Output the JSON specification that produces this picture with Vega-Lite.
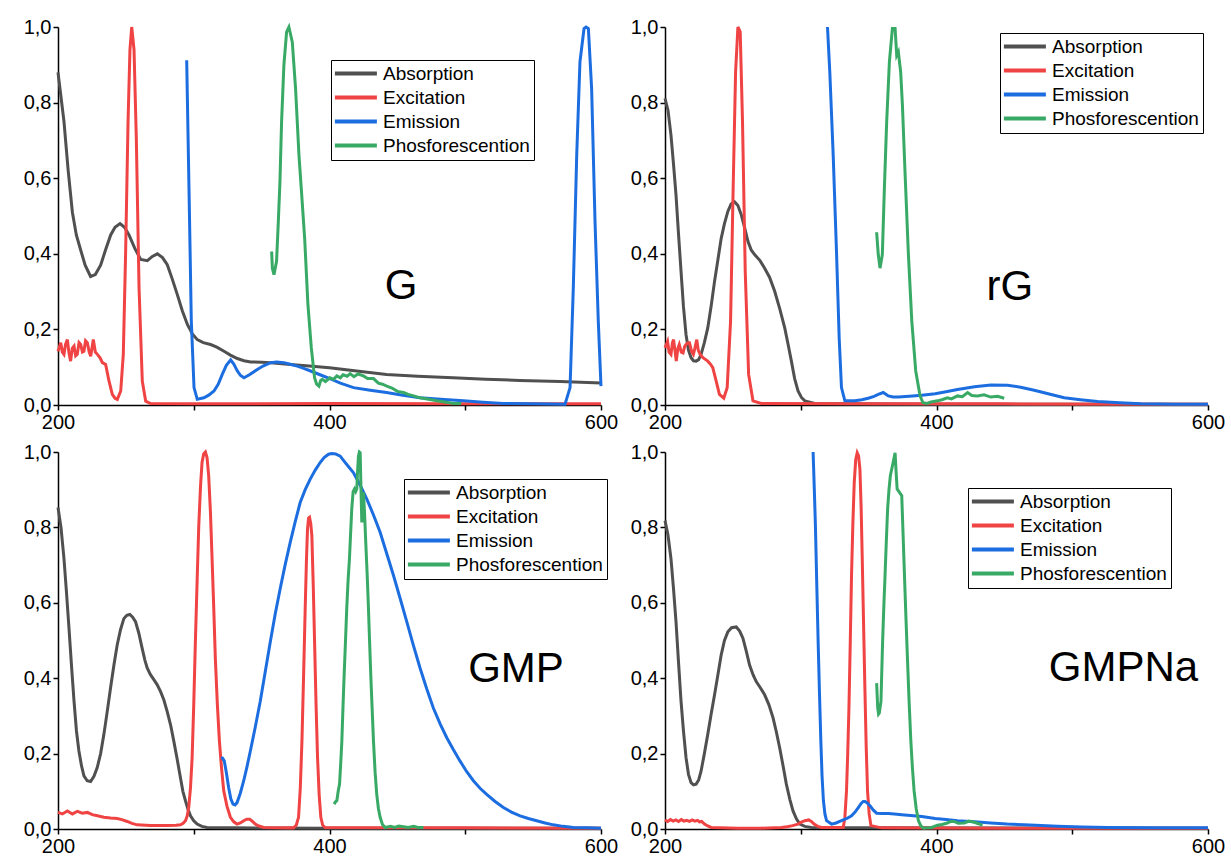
{
"$schema":"https://vega.github.io/schema/vega-lite/v6.json",
"background":"white",
"padding":{"left":23,"top":17,"right":5,"bottom":5},
"config":{
 "view":{"stroke":null},
 "font":"Liberation Sans",
 "axis":{"domainColor":"black","domainWidth":1.5,"tickColor":"black","tickWidth":1.5,"tickSize":5,"labelFontSize":20,"labelFont":"Liberation Sans","labelColor":"black","grid":false,"labelFlush":false,"labelOverlap":false,"labelBound":false,"title":null},
 "legend":{"strokeColor":"black","fillColor":"white","padding":4,"labelFontSize":19,"labelFont":"Liberation Sans","labelColor":"black","symbolType":"M-1.6,0H5.4","symbolStrokeWidth":4,"symbolSize":144,"labelOffset":29,"rowPadding":4,"title":null,"orient":"none"}
},
"datasets":{
"G":[
{"series":"Absorption","x":200,"y":0.88},{"series":"Absorption","x":204.4,"y":0.75},{"series":"Absorption","x":207.5,"y":0.62},{"series":"Absorption","x":210.6,"y":0.51},{"series":"Absorption","x":213.5,"y":0.45},{"series":"Absorption","x":216.7,"y":0.41},{"series":"Absorption","x":220,"y":0.37},{"series":"Absorption","x":224,"y":0.34},{"series":"Absorption","x":227.5,"y":0.345},{"series":"Absorption","x":231.4,"y":0.37},{"series":"Absorption","x":235,"y":0.41},{"series":"Absorption","x":238.8,"y":0.45},{"series":"Absorption","x":242,"y":0.47},{"series":"Absorption","x":245.7,"y":0.48},{"series":"Absorption","x":249,"y":0.47},{"series":"Absorption","x":252.3,"y":0.45},{"series":"Absorption","x":256.5,"y":0.415},{"series":"Absorption","x":260.9,"y":0.385},{"series":"Absorption","x":265.8,"y":0.382},{"series":"Absorption","x":269.5,"y":0.393},{"series":"Absorption","x":273.2,"y":0.4},{"series":"Absorption","x":277,"y":0.39},{"series":"Absorption","x":280.5,"y":0.371},{"series":"Absorption","x":284,"y":0.335},{"series":"Absorption","x":287.9,"y":0.292},{"series":"Absorption","x":291.5,"y":0.25},{"series":"Absorption","x":295.3,"y":0.213},{"series":"Absorption","x":299,"y":0.188},{"series":"Absorption","x":302.6,"y":0.173},{"series":"Absorption","x":307,"y":0.165},{"series":"Absorption","x":312.4,"y":0.16},{"series":"Absorption","x":317,"y":0.153},{"series":"Absorption","x":322.3,"y":0.142},{"series":"Absorption","x":327,"y":0.132},{"series":"Absorption","x":332.1,"y":0.123},{"series":"Absorption","x":337,"y":0.117},{"series":"Absorption","x":341.9,"y":0.114},{"series":"Absorption","x":350,"y":0.113},{"series":"Absorption","x":356.6,"y":0.112},{"series":"Absorption","x":371.4,"y":0.107},{"series":"Absorption","x":385,"y":0.103},{"series":"Absorption","x":400,"y":0.0985},{"series":"Absorption","x":420,"y":0.09},{"series":"Absorption","x":442,"y":0.081},{"series":"Absorption","x":465,"y":0.076},{"series":"Absorption","x":491,"y":0.072},{"series":"Absorption","x":515,"y":0.068},{"series":"Absorption","x":540,"y":0.065},{"series":"Absorption","x":570,"y":0.062},{"series":"Absorption","x":600,"y":0.058},
{"series":"Excitation","x":200,"y":0.142},{"series":"Excitation","x":202,"y":0.165},{"series":"Excitation","x":203.2,"y":0.14},{"series":"Excitation","x":204.4,"y":0.134},{"series":"Excitation","x":205.5,"y":0.16},{"series":"Excitation","x":206.9,"y":0.173},{"series":"Excitation","x":208,"y":0.14},{"series":"Excitation","x":209.3,"y":0.116},{"series":"Excitation","x":210.5,"y":0.15},{"series":"Excitation","x":211.8,"y":0.156},{"series":"Excitation","x":213,"y":0.13},{"series":"Excitation","x":214.2,"y":0.134},{"series":"Excitation","x":215.5,"y":0.165},{"series":"Excitation","x":216.7,"y":0.16},{"series":"Excitation","x":218,"y":0.14},{"series":"Excitation","x":219.1,"y":0.142},{"series":"Excitation","x":220.3,"y":0.17},{"series":"Excitation","x":221.6,"y":0.165},{"series":"Excitation","x":223,"y":0.14},{"series":"Excitation","x":224.1,"y":0.129},{"series":"Excitation","x":225,"y":0.15},{"series":"Excitation","x":226,"y":0.173},{"series":"Excitation","x":227.5,"y":0.14},{"series":"Excitation","x":229,"y":0.134},{"series":"Excitation","x":231,"y":0.125},{"series":"Excitation","x":232.7,"y":0.112},{"series":"Excitation","x":235.1,"y":0.107},{"series":"Excitation","x":237.6,"y":0.063},{"series":"Excitation","x":240,"y":0.028},{"series":"Excitation","x":242,"y":0.018},{"series":"Excitation","x":243.7,"y":0.015},{"series":"Excitation","x":246.2,"y":0.037},{"series":"Excitation","x":248.1,"y":0.134},{"series":"Excitation","x":249.8,"y":0.4},{"series":"Excitation","x":251.6,"y":0.75},{"series":"Excitation","x":253,"y":0.94},{"series":"Excitation","x":254.3,"y":1.0},{"series":"Excitation","x":256,"y":0.94},{"series":"Excitation","x":257.7,"y":0.705},{"series":"Excitation","x":259.7,"y":0.31},{"series":"Excitation","x":262.1,"y":0.063},{"series":"Excitation","x":264.6,"y":0.01},{"series":"Excitation","x":268.2,"y":0.004},{"series":"Excitation","x":300,"y":0.003},{"series":"Excitation","x":400,"y":0.004},{"series":"Excitation","x":500,"y":0.003},{"series":"Excitation","x":600,"y":0.003},
{"series":"Emission","x":294.8,"y":0.912},{"series":"Emission","x":296.5,"y":0.573},{"series":"Emission","x":298.2,"y":0.222},{"series":"Emission","x":300.2,"y":0.046},{"series":"Emission","x":302.6,"y":0.015},{"series":"Emission","x":307.5,"y":0.019},{"series":"Emission","x":311,"y":0.026},{"series":"Emission","x":314.9,"y":0.037},{"series":"Emission","x":318,"y":0.055},{"series":"Emission","x":321,"y":0.081},{"series":"Emission","x":324,"y":0.105},{"series":"Emission","x":327.2,"y":0.119},{"series":"Emission","x":329.5,"y":0.108},{"series":"Emission","x":332.1,"y":0.09},{"series":"Emission","x":334.5,"y":0.078},{"series":"Emission","x":337,"y":0.072},{"series":"Emission","x":341,"y":0.08},{"series":"Emission","x":346.8,"y":0.094},{"series":"Emission","x":351,"y":0.103},{"series":"Emission","x":356.6,"y":0.112},{"series":"Emission","x":361,"y":0.114},{"series":"Emission","x":366.4,"y":0.112},{"series":"Emission","x":371,"y":0.108},{"series":"Emission","x":376.3,"y":0.103},{"series":"Emission","x":381,"y":0.097},{"series":"Emission","x":386.1,"y":0.09},{"series":"Emission","x":393,"y":0.08},{"series":"Emission","x":400.3,"y":0.07},{"series":"Emission","x":408,"y":0.058},{"series":"Emission","x":417.7,"y":0.046},{"series":"Emission","x":430,"y":0.039},{"series":"Emission","x":442,"y":0.033},{"series":"Emission","x":454,"y":0.026},{"series":"Emission","x":466.7,"y":0.019},{"series":"Emission","x":482,"y":0.015},{"series":"Emission","x":498.7,"y":0.011},{"series":"Emission","x":513,"y":0.007},{"series":"Emission","x":528,"y":0.004},{"series":"Emission","x":550,"y":0.003},{"series":"Emission","x":573.5,"y":0.002},{"series":"Emission","x":577.2,"y":0.046},{"series":"Emission","x":579.6,"y":0.31},{"series":"Emission","x":582.1,"y":0.66},{"series":"Emission","x":584.5,"y":0.908},{"series":"Emission","x":587.5,"y":0.996},{"series":"Emission","x":589,"y":1.0},{"series":"Emission","x":590.7,"y":0.996},{"series":"Emission","x":593.1,"y":0.837},{"series":"Emission","x":595.6,"y":0.485},{"series":"Emission","x":598,"y":0.222},{"series":"Emission","x":600,"y":0.05},
{"series":"Phosforescention","x":357.4,"y":0.406},{"series":"Phosforescention","x":357.9,"y":0.362},{"series":"Phosforescention","x":359.1,"y":0.345},{"series":"Phosforescention","x":361,"y":0.38},{"series":"Phosforescention","x":362.3,"y":0.485},{"series":"Phosforescention","x":363.5,"y":0.591},{"series":"Phosforescention","x":364.7,"y":0.749},{"series":"Phosforescention","x":366.4,"y":0.899},{"series":"Phosforescention","x":368.4,"y":0.987},{"series":"Phosforescention","x":370.1,"y":1.0},{"series":"Phosforescention","x":372.6,"y":0.96},{"series":"Phosforescention","x":375,"y":0.837},{"series":"Phosforescention","x":377.5,"y":0.661},{"series":"Phosforescention","x":379.2,"y":0.573},{"series":"Phosforescention","x":381.7,"y":0.441},{"series":"Phosforescention","x":384.1,"y":0.266},{"series":"Phosforescention","x":386.6,"y":0.151},{"series":"Phosforescention","x":389,"y":0.072},{"series":"Phosforescention","x":390.5,"y":0.055},{"series":"Phosforescention","x":392.2,"y":0.05},{"series":"Phosforescention","x":393.5,"y":0.065},{"series":"Phosforescention","x":394.7,"y":0.068},{"series":"Phosforescention","x":397,"y":0.062},{"series":"Phosforescention","x":400.3,"y":0.072},{"series":"Phosforescention","x":403,"y":0.068},{"series":"Phosforescention","x":405.4,"y":0.077},{"series":"Phosforescention","x":408,"y":0.072},{"series":"Phosforescention","x":410,"y":0.08},{"series":"Phosforescention","x":413,"y":0.076},{"series":"Phosforescention","x":415.2,"y":0.083},{"series":"Phosforescention","x":418,"y":0.075},{"series":"Phosforescention","x":421,"y":0.082},{"series":"Phosforescention","x":425,"y":0.077},{"series":"Phosforescention","x":428,"y":0.07},{"series":"Phosforescention","x":432.4,"y":0.07},{"series":"Phosforescention","x":436,"y":0.058},{"series":"Phosforescention","x":439,"y":0.055},{"series":"Phosforescention","x":442.2,"y":0.05},{"series":"Phosforescention","x":446,"y":0.045},{"series":"Phosforescention","x":450,"y":0.036},{"series":"Phosforescention","x":454.5,"y":0.033},{"series":"Phosforescention","x":458,"y":0.028},{"series":"Phosforescention","x":462,"y":0.024},{"series":"Phosforescention","x":466.7,"y":0.019},{"series":"Phosforescention","x":472,"y":0.016},{"series":"Phosforescention","x":479,"y":0.011},{"series":"Phosforescention","x":485,"y":0.008},{"series":"Phosforescention","x":491.3,"y":0.004},{"series":"Phosforescention","x":497,"y":0.004}
],
"rG":[
{"series":"Absorption","x":200,"y":0.811},{"series":"Absorption","x":202.2,"y":0.78},{"series":"Absorption","x":204.4,"y":0.714},{"series":"Absorption","x":206.2,"y":0.64},{"series":"Absorption","x":208.1,"y":0.556},{"series":"Absorption","x":210,"y":0.45},{"series":"Absorption","x":211.8,"y":0.354},{"series":"Absorption","x":213.6,"y":0.26},{"series":"Absorption","x":215.5,"y":0.186},{"series":"Absorption","x":217.3,"y":0.145},{"series":"Absorption","x":219.2,"y":0.125},{"series":"Absorption","x":221,"y":0.117},{"series":"Absorption","x":222.9,"y":0.116},{"series":"Absorption","x":224.8,"y":0.12},{"series":"Absorption","x":226.6,"y":0.134},{"series":"Absorption","x":229,"y":0.165},{"series":"Absorption","x":231.5,"y":0.204},{"series":"Absorption","x":234,"y":0.262},{"series":"Absorption","x":236.5,"y":0.327},{"series":"Absorption","x":239,"y":0.385},{"series":"Absorption","x":241.4,"y":0.441},{"series":"Absorption","x":243.8,"y":0.48},{"series":"Absorption","x":246.3,"y":0.512},{"series":"Absorption","x":248.7,"y":0.532},{"series":"Absorption","x":251.2,"y":0.538},{"series":"Absorption","x":253.7,"y":0.528},{"series":"Absorption","x":256.2,"y":0.503},{"series":"Absorption","x":258.6,"y":0.47},{"series":"Absorption","x":261.1,"y":0.433},{"series":"Absorption","x":263.5,"y":0.41},{"series":"Absorption","x":266,"y":0.398},{"series":"Absorption","x":270,"y":0.382},{"series":"Absorption","x":273.4,"y":0.362},{"series":"Absorption","x":277,"y":0.338},{"series":"Absorption","x":280.8,"y":0.301},{"series":"Absorption","x":284.5,"y":0.255},{"series":"Absorption","x":288.2,"y":0.204},{"series":"Absorption","x":290.7,"y":0.16},{"series":"Absorption","x":293.1,"y":0.116},{"series":"Absorption","x":295.5,"y":0.07},{"series":"Absorption","x":298,"y":0.037},{"series":"Absorption","x":300.5,"y":0.02},{"series":"Absorption","x":303,"y":0.011},{"series":"Absorption","x":310.3,"y":0.004},{"series":"Absorption","x":330,"y":0.003},{"series":"Absorption","x":400,"y":0.002},{"series":"Absorption","x":500,"y":0.002},{"series":"Absorption","x":600,"y":0.002},
{"series":"Excitation","x":200,"y":0.151},{"series":"Excitation","x":201.9,"y":0.168},{"series":"Excitation","x":203,"y":0.14},{"series":"Excitation","x":204.4,"y":0.134},{"series":"Excitation","x":205.5,"y":0.165},{"series":"Excitation","x":206.3,"y":0.173},{"series":"Excitation","x":207.5,"y":0.14},{"series":"Excitation","x":208.3,"y":0.116},{"series":"Excitation","x":209.5,"y":0.15},{"series":"Excitation","x":210.5,"y":0.16},{"series":"Excitation","x":212,"y":0.14},{"series":"Excitation","x":213.3,"y":0.138},{"series":"Excitation","x":214.5,"y":0.155},{"series":"Excitation","x":215.5,"y":0.16},{"series":"Excitation","x":217,"y":0.165},{"series":"Excitation","x":218,"y":0.165},{"series":"Excitation","x":219.6,"y":0.142},{"series":"Excitation","x":220.9,"y":0.134},{"series":"Excitation","x":222,"y":0.15},{"series":"Excitation","x":223.4,"y":0.173},{"series":"Excitation","x":224.5,"y":0.145},{"series":"Excitation","x":225.9,"y":0.134},{"series":"Excitation","x":228,"y":0.125},{"series":"Excitation","x":231.5,"y":0.116},{"series":"Excitation","x":233.5,"y":0.108},{"series":"Excitation","x":235.2,"y":0.099},{"series":"Excitation","x":237.7,"y":0.063},{"series":"Excitation","x":240.1,"y":0.028},{"series":"Excitation","x":243.3,"y":0.018},{"series":"Excitation","x":245.8,"y":0.046},{"series":"Excitation","x":248.3,"y":0.222},{"series":"Excitation","x":250.2,"y":0.573},{"series":"Excitation","x":252,"y":0.881},{"series":"Excitation","x":253.7,"y":1.0},{"series":"Excitation","x":255.4,"y":0.987},{"series":"Excitation","x":257.1,"y":0.749},{"series":"Excitation","x":259.1,"y":0.354},{"series":"Excitation","x":261.6,"y":0.081},{"series":"Excitation","x":264.8,"y":0.011},{"series":"Excitation","x":270.9,"y":0.004},{"series":"Excitation","x":350,"y":0.003},{"series":"Excitation","x":450,"y":0.003},{"series":"Excitation","x":600,"y":0.002},
{"series":"Emission","x":319.7,"y":1.0},{"series":"Emission","x":321.4,"y":0.881},{"series":"Emission","x":323.9,"y":0.661},{"series":"Emission","x":326.4,"y":0.398},{"series":"Emission","x":328.3,"y":0.178},{"series":"Emission","x":330,"y":0.046},{"series":"Emission","x":332.5,"y":0.011},{"series":"Emission","x":339.9,"y":0.011},{"series":"Emission","x":345,"y":0.014},{"series":"Emission","x":349.7,"y":0.018},{"series":"Emission","x":354,"y":0.023},{"series":"Emission","x":357.1,"y":0.028},{"series":"Emission","x":360.8,"y":0.033},{"series":"Emission","x":364.5,"y":0.024},{"series":"Emission","x":368,"y":0.021},{"series":"Emission","x":371.9,"y":0.021},{"series":"Emission","x":380,"y":0.023},{"series":"Emission","x":389.2,"y":0.026},{"series":"Emission","x":399,"y":0.03},{"series":"Emission","x":407,"y":0.035},{"series":"Emission","x":415.5,"y":0.041},{"series":"Emission","x":428,"y":0.048},{"series":"Emission","x":440,"y":0.053},{"series":"Emission","x":452.3,"y":0.052},{"series":"Emission","x":462,"y":0.047},{"series":"Emission","x":472,"y":0.039},{"series":"Emission","x":483,"y":0.029},{"series":"Emission","x":494.1,"y":0.019},{"series":"Emission","x":506,"y":0.014},{"series":"Emission","x":518.7,"y":0.009},{"series":"Emission","x":535,"y":0.006},{"series":"Emission","x":550.6,"y":0.0035},{"series":"Emission","x":575,"y":0.002},{"series":"Emission","x":600,"y":0.002},
{"series":"Phosforescention","x":355.9,"y":0.457},{"series":"Phosforescention","x":357.1,"y":0.398},{"series":"Phosforescention","x":358.4,"y":0.362},{"series":"Phosforescention","x":360.1,"y":0.398},{"series":"Phosforescention","x":361.6,"y":0.573},{"series":"Phosforescention","x":363.3,"y":0.749},{"series":"Phosforescention","x":365.3,"y":0.908},{"series":"Phosforescention","x":367.5,"y":0.996},{"series":"Phosforescention","x":369.5,"y":0.996},{"series":"Phosforescention","x":370.7,"y":0.925},{"series":"Phosforescention","x":371.9,"y":0.934},{"series":"Phosforescention","x":373.6,"y":0.881},{"series":"Phosforescention","x":374.9,"y":0.793},{"series":"Phosforescention","x":376.8,"y":0.617},{"series":"Phosforescention","x":379.3,"y":0.398},{"series":"Phosforescention","x":381.8,"y":0.222},{"series":"Phosforescention","x":384.7,"y":0.09},{"series":"Phosforescention","x":387.9,"y":0.024},{"series":"Phosforescention","x":390,"y":0.006},{"series":"Phosforescention","x":392.9,"y":0.004},{"series":"Phosforescention","x":396,"y":0.008},{"series":"Phosforescention","x":400.7,"y":0.011},{"series":"Phosforescention","x":404,"y":0.014},{"series":"Phosforescention","x":408,"y":0.019},{"series":"Phosforescention","x":411,"y":0.016},{"series":"Phosforescention","x":415.5,"y":0.024},{"series":"Phosforescention","x":419,"y":0.022},{"series":"Phosforescention","x":422.9,"y":0.033},{"series":"Phosforescention","x":426,"y":0.025},{"series":"Phosforescention","x":430.2,"y":0.024},{"series":"Phosforescention","x":435,"y":0.027},{"series":"Phosforescention","x":440,"y":0.021},{"series":"Phosforescention","x":445,"y":0.023},{"series":"Phosforescention","x":449.9,"y":0.018}
],
"GMP":[
{"series":"Absorption","x":200,"y":0.853},{"series":"Absorption","x":202.2,"y":0.8},{"series":"Absorption","x":204.4,"y":0.717},{"series":"Absorption","x":206.2,"y":0.63},{"series":"Absorption","x":208.1,"y":0.532},{"series":"Absorption","x":210,"y":0.43},{"series":"Absorption","x":211.8,"y":0.339},{"series":"Absorption","x":213.6,"y":0.26},{"series":"Absorption","x":215.4,"y":0.207},{"series":"Absorption","x":217.3,"y":0.168},{"series":"Absorption","x":219.1,"y":0.141},{"series":"Absorption","x":221.5,"y":0.128},{"series":"Absorption","x":224,"y":0.126},{"series":"Absorption","x":226.5,"y":0.14},{"series":"Absorption","x":228.9,"y":0.163},{"series":"Absorption","x":231.4,"y":0.2},{"series":"Absorption","x":233.8,"y":0.251},{"series":"Absorption","x":236.2,"y":0.31},{"series":"Absorption","x":238.7,"y":0.374},{"series":"Absorption","x":241.2,"y":0.435},{"series":"Absorption","x":243.6,"y":0.488},{"series":"Absorption","x":246,"y":0.528},{"series":"Absorption","x":248.5,"y":0.558},{"series":"Absorption","x":250.7,"y":0.567},{"series":"Absorption","x":252.9,"y":0.569},{"series":"Absorption","x":255,"y":0.562},{"series":"Absorption","x":257.1,"y":0.55},{"series":"Absorption","x":259.5,"y":0.52},{"series":"Absorption","x":262,"y":0.479},{"series":"Absorption","x":264,"y":0.448},{"series":"Absorption","x":265.7,"y":0.427},{"series":"Absorption","x":268,"y":0.41},{"series":"Absorption","x":270.6,"y":0.396},{"series":"Absorption","x":273,"y":0.383},{"series":"Absorption","x":275.5,"y":0.365},{"series":"Absorption","x":278,"y":0.342},{"series":"Absorption","x":280.4,"y":0.312},{"series":"Absorption","x":283,"y":0.275},{"series":"Absorption","x":285.3,"y":0.233},{"series":"Absorption","x":287.8,"y":0.185},{"series":"Absorption","x":290.2,"y":0.136},{"series":"Absorption","x":292,"y":0.1},{"series":"Absorption","x":293.9,"y":0.075},{"series":"Absorption","x":295.8,"y":0.052},{"series":"Absorption","x":297.6,"y":0.035},{"series":"Absorption","x":300,"y":0.022},{"series":"Absorption","x":302.5,"y":0.013},{"series":"Absorption","x":306,"y":0.007},{"series":"Absorption","x":309.8,"y":0.004},{"series":"Absorption","x":329.4,"y":0.003},{"series":"Absorption","x":400,"y":0.002},{"series":"Absorption","x":600,"y":0.002},
{"series":"Excitation","x":200,"y":0.044},{"series":"Excitation","x":203.2,"y":0.04},{"series":"Excitation","x":206.9,"y":0.048},{"series":"Excitation","x":210.6,"y":0.04},{"series":"Excitation","x":214.3,"y":0.047},{"series":"Excitation","x":217.9,"y":0.042},{"series":"Excitation","x":221.6,"y":0.044},{"series":"Excitation","x":225.3,"y":0.038},{"series":"Excitation","x":229,"y":0.035},{"series":"Excitation","x":233.8,"y":0.031},{"series":"Excitation","x":238.7,"y":0.029},{"series":"Excitation","x":243.6,"y":0.028},{"series":"Excitation","x":247,"y":0.025},{"series":"Excitation","x":251,"y":0.02},{"series":"Excitation","x":254.5,"y":0.015},{"series":"Excitation","x":258.3,"y":0.011},{"series":"Excitation","x":268.1,"y":0.009},{"series":"Excitation","x":280.4,"y":0.009},{"series":"Excitation","x":287,"y":0.01},{"series":"Excitation","x":290.2,"y":0.011},{"series":"Excitation","x":292.2,"y":0.015},{"series":"Excitation","x":293.9,"y":0.022},{"series":"Excitation","x":295.2,"y":0.035},{"series":"Excitation","x":296.3,"y":0.057},{"series":"Excitation","x":297.6,"y":0.11},{"series":"Excitation","x":298.8,"y":0.189},{"series":"Excitation","x":300,"y":0.33},{"series":"Excitation","x":301.2,"y":0.497},{"series":"Excitation","x":302.5,"y":0.66},{"series":"Excitation","x":303.7,"y":0.805},{"series":"Excitation","x":305,"y":0.91},{"series":"Excitation","x":306.1,"y":0.972},{"series":"Excitation","x":307.3,"y":0.995},{"series":"Excitation","x":308.6,"y":1.0},{"series":"Excitation","x":309.8,"y":0.985},{"series":"Excitation","x":311,"y":0.937},{"series":"Excitation","x":312.3,"y":0.84},{"series":"Excitation","x":313.5,"y":0.717},{"series":"Excitation","x":314.7,"y":0.59},{"series":"Excitation","x":315.9,"y":0.453},{"series":"Excitation","x":317.4,"y":0.33},{"series":"Excitation","x":318.9,"y":0.233},{"series":"Excitation","x":320.5,"y":0.16},{"series":"Excitation","x":322.1,"y":0.101},{"series":"Excitation","x":324.5,"y":0.06},{"series":"Excitation","x":327,"y":0.031},{"series":"Excitation","x":329.5,"y":0.019},{"series":"Excitation","x":331.9,"y":0.013},{"series":"Excitation","x":334.3,"y":0.016},{"series":"Excitation","x":336.8,"y":0.022},{"series":"Excitation","x":339,"y":0.026},{"series":"Excitation","x":341.2,"y":0.026},{"series":"Excitation","x":343.3,"y":0.02},{"series":"Excitation","x":345.3,"y":0.013},{"series":"Excitation","x":348,"y":0.008},{"series":"Excitation","x":351.5,"y":0.004},{"series":"Excitation","x":373.5,"y":0.003},{"series":"Excitation","x":375.5,"y":0.01},{"series":"Excitation","x":377.2,"y":0.031},{"series":"Excitation","x":378.5,"y":0.11},{"series":"Excitation","x":379.7,"y":0.233},{"series":"Excitation","x":381,"y":0.42},{"series":"Excitation","x":382.1,"y":0.585},{"series":"Excitation","x":383,"y":0.71},{"series":"Excitation","x":383.8,"y":0.796},{"series":"Excitation","x":384.6,"y":0.825},{"series":"Excitation","x":385.3,"y":0.827},{"series":"Excitation","x":386.2,"y":0.81},{"series":"Excitation","x":387,"y":0.778},{"series":"Excitation","x":388,"y":0.65},{"series":"Excitation","x":389,"y":0.497},{"series":"Excitation","x":390.1,"y":0.33},{"series":"Excitation","x":391.2,"y":0.189},{"series":"Excitation","x":392.4,"y":0.09},{"series":"Excitation","x":393.6,"y":0.031},{"series":"Excitation","x":395,"y":0.01},{"series":"Excitation","x":396.8,"y":0.004},{"series":"Excitation","x":500,"y":0.003},{"series":"Excitation","x":600,"y":0.002},
{"series":"Emission","x":320.1,"y":0.189},{"series":"Emission","x":321.2,"y":0.188},{"series":"Emission","x":322.5,"y":0.18},{"series":"Emission","x":324,"y":0.15},{"series":"Emission","x":325.7,"y":0.11},{"series":"Emission","x":327.3,"y":0.08},{"series":"Emission","x":328.9,"y":0.066},{"series":"Emission","x":330.4,"y":0.064},{"series":"Emission","x":331.9,"y":0.07},{"series":"Emission","x":334.3,"y":0.095},{"series":"Emission","x":336.8,"y":0.128},{"series":"Emission","x":339.2,"y":0.165},{"series":"Emission","x":341.7,"y":0.207},{"series":"Emission","x":345.4,"y":0.272},{"series":"Emission","x":349,"y":0.339},{"series":"Emission","x":352.7,"y":0.418},{"series":"Emission","x":356.4,"y":0.497},{"series":"Emission","x":360,"y":0.57},{"series":"Emission","x":363.7,"y":0.638},{"series":"Emission","x":367.4,"y":0.702},{"series":"Emission","x":371.1,"y":0.761},{"series":"Emission","x":374.8,"y":0.816},{"series":"Emission","x":378.4,"y":0.866},{"series":"Emission","x":382.1,"y":0.9},{"series":"Emission","x":385.8,"y":0.928},{"series":"Emission","x":389.5,"y":0.952},{"series":"Emission","x":393.1,"y":0.972},{"series":"Emission","x":396,"y":0.985},{"series":"Emission","x":399.3,"y":0.994},{"series":"Emission","x":401.7,"y":0.996},{"series":"Emission","x":404.5,"y":0.995},{"series":"Emission","x":407.9,"y":0.989},{"series":"Emission","x":412,"y":0.97},{"series":"Emission","x":417.7,"y":0.945},{"series":"Emission","x":422.6,"y":0.912},{"series":"Emission","x":427.5,"y":0.875},{"series":"Emission","x":432.4,"y":0.833},{"series":"Emission","x":437.3,"y":0.787},{"series":"Emission","x":442.2,"y":0.73},{"series":"Emission","x":447.1,"y":0.673},{"series":"Emission","x":452,"y":0.612},{"series":"Emission","x":456.9,"y":0.55},{"series":"Emission","x":461.8,"y":0.487},{"series":"Emission","x":466.7,"y":0.427},{"series":"Emission","x":471.6,"y":0.372},{"series":"Emission","x":476.5,"y":0.321},{"series":"Emission","x":481.5,"y":0.279},{"series":"Emission","x":486.4,"y":0.242},{"series":"Emission","x":491.3,"y":0.21},{"series":"Emission","x":496.2,"y":0.18},{"series":"Emission","x":501.1,"y":0.152},{"series":"Emission","x":506,"y":0.128},{"series":"Emission","x":510.9,"y":0.108},{"series":"Emission","x":515.8,"y":0.092},{"series":"Emission","x":522,"y":0.073},{"series":"Emission","x":528.1,"y":0.057},{"series":"Emission","x":534,"y":0.045},{"series":"Emission","x":540.4,"y":0.035},{"series":"Emission","x":546.5,"y":0.028},{"series":"Emission","x":552.6,"y":0.022},{"series":"Emission","x":558.8,"y":0.016},{"series":"Emission","x":564.9,"y":0.011},{"series":"Emission","x":572,"y":0.007},{"series":"Emission","x":579.6,"y":0.004},{"series":"Emission","x":590,"y":0.003},{"series":"Emission","x":600,"y":0.002},
{"series":"Phosforescention","x":403.4,"y":0.066},{"series":"Phosforescention","x":404.4,"y":0.072},{"series":"Phosforescention","x":405.4,"y":0.075},{"series":"Phosforescention","x":406.4,"y":0.1},{"series":"Phosforescention","x":407.4,"y":0.119},{"series":"Phosforescention","x":408.2,"y":0.17},{"series":"Phosforescention","x":409.1,"y":0.233},{"series":"Phosforescention","x":410,"y":0.33},{"series":"Phosforescention","x":410.8,"y":0.409},{"series":"Phosforescention","x":411.8,"y":0.5},{"series":"Phosforescention","x":412.7,"y":0.585},{"series":"Phosforescention","x":413.7,"y":0.66},{"series":"Phosforescention","x":414.7,"y":0.717},{"series":"Phosforescention","x":415.5,"y":0.78},{"series":"Phosforescention","x":416.4,"y":0.849},{"series":"Phosforescention","x":417.4,"y":0.895},{"series":"Phosforescention","x":418.4,"y":0.902},{"series":"Phosforescention","x":419.3,"y":0.895},{"series":"Phosforescention","x":420.1,"y":0.902},{"series":"Phosforescention","x":420.7,"y":0.95},{"series":"Phosforescention","x":421.3,"y":0.989},{"series":"Phosforescention","x":422,"y":1.0},{"series":"Phosforescention","x":422.6,"y":0.998},{"series":"Phosforescention","x":423.2,"y":0.9},{"series":"Phosforescention","x":423.8,"y":0.813},{"series":"Phosforescention","x":424.4,"y":0.86},{"series":"Phosforescention","x":425,"y":0.893},{"series":"Phosforescention","x":425.8,"y":0.84},{"series":"Phosforescention","x":426.7,"y":0.761},{"series":"Phosforescention","x":427.7,"y":0.68},{"series":"Phosforescention","x":428.7,"y":0.585},{"series":"Phosforescention","x":429.5,"y":0.5},{"series":"Phosforescention","x":430.4,"y":0.409},{"series":"Phosforescention","x":431.4,"y":0.32},{"series":"Phosforescention","x":432.4,"y":0.233},{"series":"Phosforescention","x":433.6,"y":0.15},{"series":"Phosforescention","x":434.8,"y":0.092},{"series":"Phosforescention","x":436,"y":0.055},{"series":"Phosforescention","x":437.3,"y":0.031},{"series":"Phosforescention","x":439,"y":0.012},{"series":"Phosforescention","x":441,"y":0.004},{"series":"Phosforescention","x":445,"y":0.007},{"series":"Phosforescention","x":448,"y":0.004},{"series":"Phosforescention","x":451,"y":0.008},{"series":"Phosforescention","x":454.5,"y":0.006},{"series":"Phosforescention","x":458,"y":0.004},{"series":"Phosforescention","x":462,"y":0.007},{"series":"Phosforescention","x":465,"y":0.004},{"series":"Phosforescention","x":469.2,"y":0.004}
],
"GMPNa":[
{"series":"Absorption","x":200,"y":0.818},{"series":"Absorption","x":202.2,"y":0.78},{"series":"Absorption","x":204.4,"y":0.717},{"series":"Absorption","x":206.2,"y":0.64},{"series":"Absorption","x":208.1,"y":0.55},{"series":"Absorption","x":210,"y":0.44},{"series":"Absorption","x":211.8,"y":0.339},{"series":"Absorption","x":213.6,"y":0.26},{"series":"Absorption","x":215.5,"y":0.189},{"series":"Absorption","x":217.3,"y":0.145},{"series":"Absorption","x":219.2,"y":0.123},{"series":"Absorption","x":221,"y":0.117},{"series":"Absorption","x":222.9,"y":0.119},{"series":"Absorption","x":224.8,"y":0.13},{"series":"Absorption","x":226.6,"y":0.154},{"series":"Absorption","x":229,"y":0.2},{"series":"Absorption","x":231.5,"y":0.251},{"series":"Absorption","x":234,"y":0.305},{"series":"Absorption","x":236.5,"y":0.356},{"series":"Absorption","x":239,"y":0.41},{"series":"Absorption","x":241.4,"y":0.462},{"series":"Absorption","x":243.8,"y":0.5},{"series":"Absorption","x":246.3,"y":0.523},{"series":"Absorption","x":249,"y":0.534},{"series":"Absorption","x":252.5,"y":0.536},{"series":"Absorption","x":255,"y":0.525},{"series":"Absorption","x":257.4,"y":0.506},{"series":"Absorption","x":260,"y":0.47},{"series":"Absorption","x":262.3,"y":0.435},{"series":"Absorption","x":265,"y":0.408},{"series":"Absorption","x":267.2,"y":0.391},{"series":"Absorption","x":270,"y":0.376},{"series":"Absorption","x":273.4,"y":0.356},{"series":"Absorption","x":276.5,"y":0.33},{"series":"Absorption","x":279.6,"y":0.295},{"series":"Absorption","x":282,"y":0.258},{"series":"Absorption","x":284.5,"y":0.215},{"series":"Absorption","x":287,"y":0.167},{"series":"Absorption","x":289.4,"y":0.119},{"series":"Absorption","x":292,"y":0.078},{"series":"Absorption","x":294.3,"y":0.048},{"series":"Absorption","x":296.8,"y":0.027},{"series":"Absorption","x":299.3,"y":0.013},{"series":"Absorption","x":303,"y":0.007},{"series":"Absorption","x":307.9,"y":0.004},{"series":"Absorption","x":350,"y":0.003},{"series":"Absorption","x":600,"y":0.002},
{"series":"Excitation","x":200,"y":0.024},{"series":"Excitation","x":202,"y":0.02},{"series":"Excitation","x":204,"y":0.025},{"series":"Excitation","x":206,"y":0.021},{"series":"Excitation","x":208,"y":0.024},{"series":"Excitation","x":210,"y":0.02},{"series":"Excitation","x":212,"y":0.025},{"series":"Excitation","x":214,"y":0.021},{"series":"Excitation","x":216,"y":0.023},{"series":"Excitation","x":218,"y":0.02},{"series":"Excitation","x":220,"y":0.024},{"series":"Excitation","x":222,"y":0.021},{"series":"Excitation","x":224,"y":0.023},{"series":"Excitation","x":225.4,"y":0.019},{"series":"Excitation","x":227,"y":0.02},{"series":"Excitation","x":229.1,"y":0.013},{"series":"Excitation","x":231.5,"y":0.008},{"series":"Excitation","x":234,"y":0.004},{"series":"Excitation","x":253.7,"y":0.002},{"series":"Excitation","x":270,"y":0.002},{"series":"Excitation","x":285.7,"y":0.004},{"series":"Excitation","x":290,"y":0.006},{"series":"Excitation","x":294,"y":0.009},{"series":"Excitation","x":298,"y":0.013},{"series":"Excitation","x":300.5,"y":0.018},{"series":"Excitation","x":303,"y":0.022},{"series":"Excitation","x":305.9,"y":0.024},{"series":"Excitation","x":307.8,"y":0.02},{"series":"Excitation","x":309.8,"y":0.013},{"series":"Excitation","x":312.5,"y":0.007},{"series":"Excitation","x":315.3,"y":0.004},{"series":"Excitation","x":331.3,"y":0.004},{"series":"Excitation","x":332.5,"y":0.03},{"series":"Excitation","x":333.7,"y":0.101},{"series":"Excitation","x":334.6,"y":0.2},{"series":"Excitation","x":335.5,"y":0.321},{"series":"Excitation","x":336.5,"y":0.5},{"series":"Excitation","x":337.4,"y":0.673},{"series":"Excitation","x":338.4,"y":0.81},{"series":"Excitation","x":339.4,"y":0.919},{"series":"Excitation","x":340.5,"y":0.98},{"series":"Excitation","x":341.6,"y":0.998},{"series":"Excitation","x":342.6,"y":0.99},{"series":"Excitation","x":343.6,"y":0.954},{"series":"Excitation","x":344.5,"y":0.85},{"series":"Excitation","x":345.3,"y":0.717},{"series":"Excitation","x":346.3,"y":0.54},{"series":"Excitation","x":347.3,"y":0.365},{"series":"Excitation","x":348.2,"y":0.22},{"series":"Excitation","x":349.2,"y":0.101},{"series":"Excitation","x":350.4,"y":0.04},{"series":"Excitation","x":351.7,"y":0.009},{"series":"Excitation","x":359.6,"y":0.003},{"series":"Excitation","x":450,"y":0.002},{"series":"Excitation","x":600,"y":0.002},
{"series":"Emission","x":309.1,"y":1.0},{"series":"Emission","x":310,"y":0.9},{"series":"Emission","x":310.8,"y":0.805},{"series":"Emission","x":311.8,"y":0.65},{"series":"Emission","x":312.8,"y":0.497},{"series":"Emission","x":313.8,"y":0.36},{"series":"Emission","x":314.8,"y":0.233},{"series":"Emission","x":315.7,"y":0.14},{"series":"Emission","x":316.7,"y":0.075},{"series":"Emission","x":317.8,"y":0.04},{"series":"Emission","x":319,"y":0.022},{"series":"Emission","x":322.7,"y":0.013},{"series":"Emission","x":326,"y":0.016},{"series":"Emission","x":330,"y":0.022},{"series":"Emission","x":334,"y":0.028},{"series":"Emission","x":337.4,"y":0.035},{"series":"Emission","x":340,"y":0.045},{"series":"Emission","x":342.4,"y":0.057},{"series":"Emission","x":344.5,"y":0.068},{"series":"Emission","x":346,"y":0.073},{"series":"Emission","x":347.3,"y":0.073},{"series":"Emission","x":349,"y":0.069},{"series":"Emission","x":351,"y":0.062},{"series":"Emission","x":353.5,"y":0.05},{"series":"Emission","x":355.9,"y":0.042},{"series":"Emission","x":360,"y":0.041},{"series":"Emission","x":364.5,"y":0.041},{"series":"Emission","x":369,"y":0.04},{"series":"Emission","x":374.4,"y":0.038},{"series":"Emission","x":381,"y":0.036},{"series":"Emission","x":389.2,"y":0.033},{"series":"Emission","x":399,"y":0.028},{"series":"Emission","x":407,"y":0.025},{"series":"Emission","x":415.5,"y":0.022},{"series":"Emission","x":428,"y":0.019},{"series":"Emission","x":440,"y":0.016},{"series":"Emission","x":452,"y":0.013},{"series":"Emission","x":464.6,"y":0.011},{"series":"Emission","x":477,"y":0.009},{"series":"Emission","x":489.2,"y":0.007},{"series":"Emission","x":507,"y":0.005},{"series":"Emission","x":526,"y":0.004},{"series":"Emission","x":560,"y":0.003},{"series":"Emission","x":600,"y":0.003},
{"series":"Phosforescention","x":355.9,"y":0.387},{"series":"Phosforescention","x":356.7,"y":0.321},{"series":"Phosforescention","x":357.3,"y":0.305},{"series":"Phosforescention","x":357.9,"y":0.308},{"series":"Phosforescention","x":359.1,"y":0.339},{"series":"Phosforescention","x":360.3,"y":0.497},{"series":"Phosforescention","x":361.2,"y":0.59},{"series":"Phosforescention","x":362.1,"y":0.673},{"series":"Phosforescention","x":363,"y":0.76},{"series":"Phosforescention","x":364,"y":0.849},{"series":"Phosforescention","x":365,"y":0.9},{"series":"Phosforescention","x":366,"y":0.937},{"series":"Phosforescention","x":367.5,"y":0.963},{"series":"Phosforescention","x":368.5,"y":0.98},{"series":"Phosforescention","x":369.5,"y":0.998},{"series":"Phosforescention","x":370.2,"y":0.95},{"series":"Phosforescention","x":371,"y":0.902},{"series":"Phosforescention","x":372.7,"y":0.893},{"series":"Phosforescention","x":374.4,"y":0.884},{"series":"Phosforescention","x":375.4,"y":0.78},{"series":"Phosforescention","x":376.4,"y":0.673},{"series":"Phosforescention","x":377.5,"y":0.56},{"series":"Phosforescention","x":378.6,"y":0.453},{"series":"Phosforescention","x":379.8,"y":0.34},{"series":"Phosforescention","x":381.1,"y":0.233},{"series":"Phosforescention","x":382.3,"y":0.16},{"series":"Phosforescention","x":383.5,"y":0.101},{"series":"Phosforescention","x":385,"y":0.055},{"series":"Phosforescention","x":386.7,"y":0.022},{"series":"Phosforescention","x":388.5,"y":0.008},{"series":"Phosforescention","x":390.4,"y":0.002},{"series":"Phosforescention","x":393,"y":0.003},{"series":"Phosforescention","x":396.5,"y":0.004},{"series":"Phosforescention","x":400.7,"y":0.01},{"series":"Phosforescention","x":404,"y":0.012},{"series":"Phosforescention","x":408,"y":0.016},{"series":"Phosforescention","x":410.5,"y":0.02},{"series":"Phosforescention","x":413,"y":0.02},{"series":"Phosforescention","x":416,"y":0.015},{"series":"Phosforescention","x":420.4,"y":0.016},{"series":"Phosforescention","x":424,"y":0.021},{"series":"Phosforescention","x":427.8,"y":0.018},{"series":"Phosforescention","x":431,"y":0.014},{"series":"Phosforescention","x":433.9,"y":0.01}
]
},
"vconcat":[
 {"hconcat":[
  {"width":543,"height":378,"layer":[
   {"data":{"name":"G"},"mark":{"type":"line","strokeWidth":3},
    "encoding":{
     "x":{"field":"x","type":"quantitative","scale":{"domain":[200,600],"nice":false,"zero":false},"axis":{"values":[200,300,400,500,600],"labelExpr":"datum.value % 200 === 0 ? datum.label : ''"}},
     "y":{"field":"y","type":"quantitative","scale":{"domain":[0,1],"nice":false},"axis":{"values":[0,0.1,0.2,0.3,0.4,0.5,0.6,0.7,0.8,0.9,1.0],"labelExpr":"round(datum.value*10) % 2 === 0 ? replace(format(datum.value, '.1f'), '.', ',') : ''"}},
     "color":{"field":"series","type":"nominal","scale":{"domain":["Absorption","Excitation","Emission","Phosforescention"],"range":["#505050","#f04343","#1c6ee0","#38aa66"]},"legend":{"orient":"none","legendX":273,"legendY":33,"title":null}}}},
   {"data":{"values":[{"label":"G","x":452.7,"y":0.315}]},"mark":{"type":"text","fontSize":42,"font":"Liberation Sans","color":"black","align":"center","baseline":"middle"},
    "encoding":{"x":{"field":"x","type":"quantitative"},"y":{"field":"y","type":"quantitative"},"text":{"field":"label"}}}
  ]},
  {"width":543,"height":378,"layer":[
   {"data":{"name":"rG"},"mark":{"type":"line","strokeWidth":3},
    "encoding":{
     "x":{"field":"x","type":"quantitative","scale":{"domain":[200,600],"nice":false,"zero":false},"axis":{"values":[200,300,400,500,600],"labelExpr":"datum.value % 200 === 0 ? datum.label : ''"}},
     "y":{"field":"y","type":"quantitative","scale":{"domain":[0,1],"nice":false},"axis":{"values":[0,0.1,0.2,0.3,0.4,0.5,0.6,0.7,0.8,0.9,1.0],"labelExpr":"round(datum.value*10) % 2 === 0 ? replace(format(datum.value, '.1f'), '.', ',') : ''"}},
     "color":{"field":"series","type":"nominal","scale":{"domain":["Absorption","Excitation","Emission","Phosforescention"],"range":["#505050","#f04343","#1c6ee0","#38aa66"]},"legend":{"orient":"none","legendX":335,"legendY":6,"title":null}}}},
   {"data":{"values":[{"label":"rG","x":454.1,"y":0.312}]},"mark":{"type":"text","fontSize":42,"font":"Liberation Sans","color":"black","align":"center","baseline":"middle"},
    "encoding":{"x":{"field":"x","type":"quantitative"},"y":{"field":"y","type":"quantitative"},"text":{"field":"label"}}}
  ]}
 ],"spacing":64,"bounds":"flush","resolve":{"scale":{"color":"independent"},"legend":{"color":"independent"}}},
 {"hconcat":[
  {"width":543,"height":377,"layer":[
   {"data":{"name":"GMP"},"mark":{"type":"line","strokeWidth":3},
    "encoding":{
     "x":{"field":"x","type":"quantitative","scale":{"domain":[200,600],"nice":false,"zero":false},"axis":{"values":[200,300,400,500,600],"labelExpr":"datum.value % 200 === 0 ? datum.label : ''"}},
     "y":{"field":"y","type":"quantitative","scale":{"domain":[0,1],"nice":false},"axis":{"values":[0,0.1,0.2,0.3,0.4,0.5,0.6,0.7,0.8,0.9,1.0],"labelExpr":"round(datum.value*10) % 2 === 0 ? replace(format(datum.value, '.1f'), '.', ',') : ''"}},
     "color":{"field":"series","type":"nominal","scale":{"domain":["Absorption","Excitation","Emission","Phosforescention"],"range":["#505050","#f04343","#1c6ee0","#38aa66"]},"legend":{"orient":"none","legendX":346,"legendY":27,"title":null}}}},
   {"data":{"values":[{"label":"GMP","x":537.4,"y":0.424}]},"mark":{"type":"text","fontSize":42,"font":"Liberation Sans","color":"black","align":"center","baseline":"middle"},
    "encoding":{"x":{"field":"x","type":"quantitative"},"y":{"field":"y","type":"quantitative"},"text":{"field":"label"}}}
  ]},
  {"width":543,"height":377,"layer":[
   {"data":{"name":"GMPNa"},"mark":{"type":"line","strokeWidth":3},
    "encoding":{
     "x":{"field":"x","type":"quantitative","scale":{"domain":[200,600],"nice":false,"zero":false},"axis":{"values":[200,300,400,500,600],"labelExpr":"datum.value % 200 === 0 ? datum.label : ''"}},
     "y":{"field":"y","type":"quantitative","scale":{"domain":[0,1],"nice":false},"axis":{"values":[0,0.1,0.2,0.3,0.4,0.5,0.6,0.7,0.8,0.9,1.0],"labelExpr":"round(datum.value*10) % 2 === 0 ? replace(format(datum.value, '.1f'), '.', ',') : ''"}},
     "color":{"field":"series","type":"nominal","scale":{"domain":["Absorption","Excitation","Emission","Phosforescention"],"range":["#505050","#f04343","#1c6ee0","#38aa66"]},"legend":{"orient":"none","legendX":303,"legendY":36,"title":null}}}},
   {"data":{"values":[{"label":"GMPNa","x":537.7,"y":0.427}]},"mark":{"type":"text","fontSize":42,"font":"Liberation Sans","color":"black","align":"center","baseline":"middle"},
    "encoding":{"x":{"field":"x","type":"quantitative"},"y":{"field":"y","type":"quantitative"},"text":{"field":"label"}}}
  ]}
 ],"spacing":64,"bounds":"flush","resolve":{"scale":{"color":"independent"},"legend":{"color":"independent"}}}
],
"spacing":10,
"resolve":{"scale":{"color":"independent"},"legend":{"color":"independent"}}
}
